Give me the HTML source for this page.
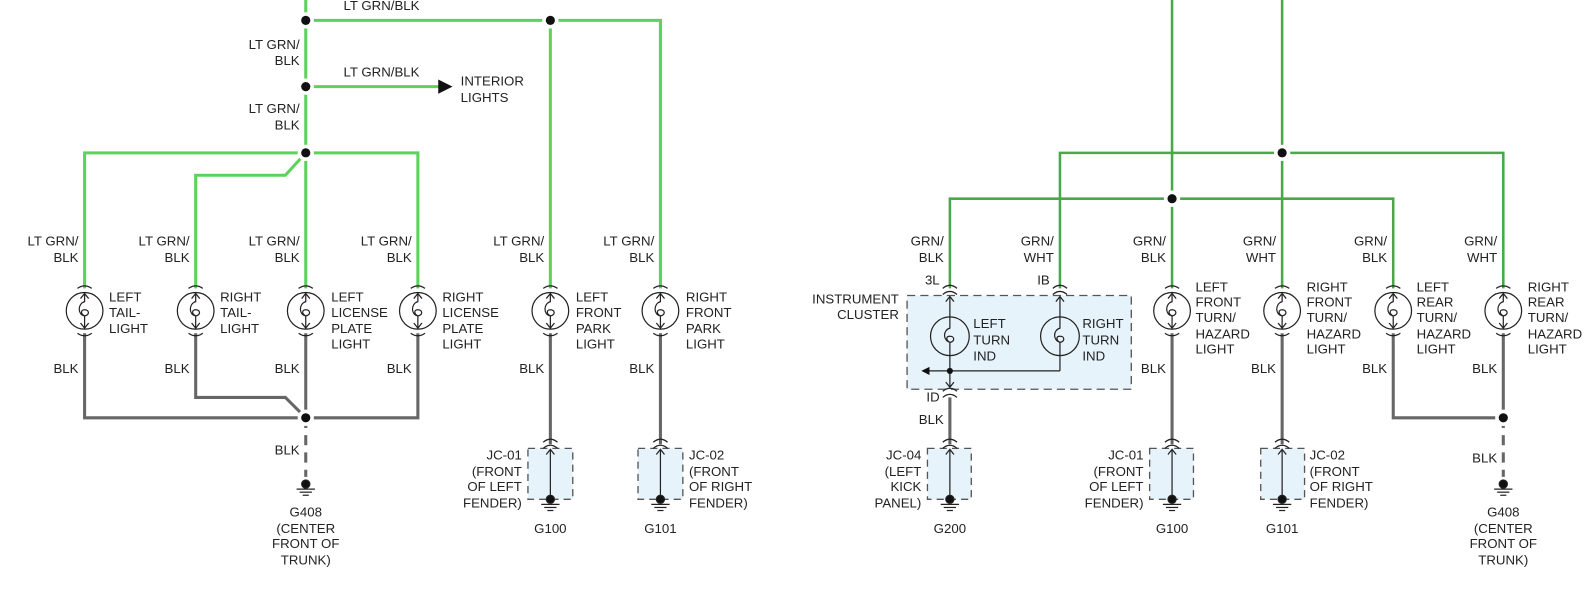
<!DOCTYPE html>
<html><head><meta charset="utf-8"><style>
html,body{margin:0;padding:0;background:#fff;}
svg{display:block;}
text{font-family:"Liberation Sans",sans-serif;font-size:13px;fill:#222;}
</style></head><body>
<svg width="1594" height="590" viewBox="0 0 1564 579" preserveAspectRatio="none" xmlns="http://www.w3.org/2000/svg">
<defs>
<g id="bulb" fill="none" stroke="#222" stroke-width="1.2">
<circle cx="0" cy="0" r="18" fill="#fff"/>
<path d="M-7,-22 Q0,-27 7,-22"/>
<path d="M-7,22 Q0,27 7,22"/>
<path d="M0,-17 V-9 C-7,-7 -7,4 0,5 C5,4 5,-1 0,-1 C-4,-1 -4,3 0,5 V17"/>
<path d="M-4,-12 L0,-17 L4,-12"/>
<path d="M-4,12 L0,17 L4,12"/>
</g>
<g id="gnd" stroke="#222" stroke-width="1.2">
<circle cx="0" cy="0" r="4" fill="#111"/>
<line x1="-9" y1="5" x2="9" y2="5"/><line x1="-6" y1="8" x2="6" y2="8"/><line x1="-3" y1="11" x2="3" y2="11"/>
</g>
<g id="conn" fill="none" stroke="#222" stroke-width="1.2"><path d="M-7,-3 Q0,-9 7,-3"/><path d="M-7,3 Q0,-3 7,3"/></g>
<g id="dot"><circle r="8" fill="#fff"/><circle r="4.5" fill="#111"/></g>
</defs>

<!-- LEFT SECTION green -->
<g fill="none" stroke="#5bd35b" stroke-width="3">
<line x1="300" y1="0" x2="300" y2="283"/>
<polyline points="300,20 648,20 648,283"/>
<line x1="540" y1="20" x2="540" y2="283"/>
<line x1="300" y1="85" x2="432" y2="85"/>
<polyline points="83,283 83,150 410,150 410,283"/>
<polyline points="300,150 280,172 192,172 192,283"/>
</g>
<polygon points="430,78 444,85 430,92" fill="#111"/>
<g fill="none" stroke="#666" stroke-width="3">
<polyline points="83,327 83,410 410,410 410,327"/>
<polyline points="192,327 192,390 280,390 300,410"/>
<line x1="300" y1="327" x2="300" y2="410"/>
<line x1="300" y1="410" x2="300" y2="468" stroke-dasharray="10,7"/>
<line x1="540" y1="327" x2="540" y2="436"/>
<line x1="648" y1="327" x2="648" y2="436"/>
</g>
<use href="#dot" x="300" y="20"/><use href="#dot" x="540" y="20"/>
<use href="#dot" x="300" y="85"/><use href="#dot" x="300" y="150"/>
<use href="#dot" x="300" y="410"/>
<use href="#bulb" x="83" y="305"/><use href="#bulb" x="192" y="305"/><use href="#bulb" x="300" y="305"/><use href="#bulb" x="410" y="305"/>
<use href="#bulb" x="540" y="305"/><use href="#bulb" x="648" y="305"/>
<use href="#gnd" x="300" y="475"/>
<rect x="518" y="440" width="44" height="50" fill="#e6f3fa" stroke="#555" stroke-width="1.3" stroke-dasharray="7,5"/>
<rect x="626" y="440" width="44" height="50" fill="#e6f3fa" stroke="#555" stroke-width="1.3" stroke-dasharray="7,5"/>
<g stroke="#222" stroke-width="1.2" fill="none">
<line x1="540" y1="442" x2="540" y2="488"/><path d="M536,446 L540,441 L544,446"/>
<line x1="648" y1="442" x2="648" y2="488"/><path d="M644,446 L648,441 L652,446"/>
</g>
<use href="#conn" x="540" y="437"/><use href="#conn" x="648" y="437"/>
<use href="#gnd" x="540" y="490"/><use href="#gnd" x="648" y="490"/>

<g text-anchor="end">
<text x="294" y="48">LT GRN/</text><text x="294" y="64">BLK</text>
<text x="294" y="111">LT GRN/</text><text x="294" y="127">BLK</text>
<text x="77" y="241">LT GRN/</text><text x="77" y="257">BLK</text>
<text x="186" y="241">LT GRN/</text><text x="186" y="257">BLK</text>
<text x="294" y="241">LT GRN/</text><text x="294" y="257">BLK</text>
<text x="404" y="241">LT GRN/</text><text x="404" y="257">BLK</text>
<text x="534" y="241">LT GRN/</text><text x="534" y="257">BLK</text>
<text x="642" y="241">LT GRN/</text><text x="642" y="257">BLK</text>
<text x="77" y="366">BLK</text><text x="186" y="366">BLK</text><text x="294" y="366">BLK</text><text x="404" y="366">BLK</text>
<text x="534" y="366">BLK</text><text x="642" y="366">BLK</text>
<text x="294" y="446">BLK</text>
<text x="512" y="451">JC-01</text><text x="512" y="467">(FRONT</text><text x="512" y="482">OF LEFT</text><text x="512" y="498">FENDER)</text>
</g>
<text x="337" y="10">LT GRN/BLK</text>
<text x="337" y="75">LT GRN/BLK</text>
<text x="452" y="84">INTERIOR</text><text x="452" y="100">LIGHTS</text>
<text x="107" y="296">LEFT</text><text x="107" y="311">TAIL-</text><text x="107" y="327">LIGHT</text>
<text x="216" y="296">RIGHT</text><text x="216" y="311">TAIL-</text><text x="216" y="327">LIGHT</text>
<text x="325" y="296">LEFT</text><text x="325" y="311">LICENSE</text><text x="325" y="327">PLATE</text><text x="325" y="342">LIGHT</text>
<text x="434" y="296">RIGHT</text><text x="434" y="311">LICENSE</text><text x="434" y="327">PLATE</text><text x="434" y="342">LIGHT</text>
<text x="565" y="296">LEFT</text><text x="565" y="311">FRONT</text><text x="565" y="327">PARK</text><text x="565" y="342">LIGHT</text>
<text x="673" y="296">RIGHT</text><text x="673" y="311">FRONT</text><text x="673" y="327">PARK</text><text x="673" y="342">LIGHT</text>
<text x="676" y="451">JC-02</text><text x="676" y="467">(FRONT</text><text x="676" y="482">OF RIGHT</text><text x="676" y="498">FENDER)</text>
<g text-anchor="middle">
<text x="540" y="523">G100</text><text x="648" y="523">G101</text>
<text x="300" y="507">G408</text><text x="300" y="523">(CENTER</text><text x="300" y="538">FRONT OF</text><text x="300" y="554">TRUNK)</text>
</g>

<!-- RIGHT SECTION -->
<rect x="890" y="290" width="220" height="92" fill="#e6f3fa" stroke="#555" stroke-width="1.3" stroke-dasharray="8,5"/>
<g fill="none" stroke="#4aa84a" stroke-width="2.5">
<line x1="1150" y1="0" x2="1150" y2="283"/>
<line x1="1258" y1="0" x2="1258" y2="283"/>
<polyline points="1040,283 1040,150 1475,150 1475,283"/>
<polyline points="932,283 932,195 1367,195 1367,283"/>
</g>
<g fill="none" stroke="#666" stroke-width="3">
<line x1="1150" y1="327" x2="1150" y2="436"/>
<line x1="1258" y1="327" x2="1258" y2="436"/>
<polyline points="1367,327 1367,410 1475,410 1475,327"/>
<line x1="1475" y1="410" x2="1475" y2="468" stroke-dasharray="10,7"/>
<line x1="932" y1="390" x2="932" y2="436"/>
</g>
<g fill="none" stroke="#222" stroke-width="1.2">
<line x1="932" y1="291" x2="932" y2="380"/><path d="M928,296 L932,291 L936,296"/><path d="M928,375 L932,380 L936,375"/>
<line x1="1040" y1="291" x2="1040" y2="364"/><path d="M1036,296 L1040,291 L1044,296"/>
<line x1="910" y1="364" x2="1040" y2="364"/>
</g>
<polygon points="904,364 912,360 912,368" fill="#111"/>
<circle cx="932" cy="364" r="3" fill="#111"/>
<g fill="none" stroke="#222" stroke-width="1.2">
<circle cx="932" cy="330" r="19" fill="#e6f3fa"/>
<circle cx="1040" cy="330" r="19" fill="#e6f3fa"/>
<path d="M932,311 V322 C925,324 925,334 932,336 C937,335 937,330 932,330 C928,330 928,334 932,336 V349"/>
<path d="M1040,311 V322 C1033,324 1033,334 1040,336 C1045,335 1045,330 1040,330 C1036,330 1036,334 1040,336 V349"/>
</g>
<use href="#conn" x="932" y="286"/><use href="#conn" x="1040" y="286"/><use href="#conn" x="932" y="387"/>
<use href="#dot" x="1150" y="195"/><use href="#dot" x="1258" y="150"/><use href="#dot" x="1475" y="410"/>
<use href="#bulb" x="1150" y="305"/><use href="#bulb" x="1258" y="305"/><use href="#bulb" x="1367" y="305"/><use href="#bulb" x="1475" y="305"/>
<rect x="910" y="440" width="43" height="50" fill="#e6f3fa" stroke="#555" stroke-width="1.3" stroke-dasharray="7,5"/>
<rect x="1128" y="440" width="43" height="50" fill="#e6f3fa" stroke="#555" stroke-width="1.3" stroke-dasharray="7,5"/>
<rect x="1237" y="440" width="43" height="50" fill="#e6f3fa" stroke="#555" stroke-width="1.3" stroke-dasharray="7,5"/>
<g stroke="#222" stroke-width="1.2" fill="none">
<line x1="932" y1="442" x2="932" y2="488"/><path d="M928,446 L932,441 L936,446"/>
<line x1="1150" y1="442" x2="1150" y2="488"/><path d="M1146,446 L1150,441 L1154,446"/>
<line x1="1258" y1="442" x2="1258" y2="488"/><path d="M1254,446 L1258,441 L1262,446"/>
</g>
<use href="#conn" x="932" y="437"/><use href="#conn" x="1150" y="437"/><use href="#conn" x="1258" y="437"/>
<use href="#gnd" x="932" y="490"/><use href="#gnd" x="1150" y="490"/><use href="#gnd" x="1258" y="490"/><use href="#gnd" x="1475" y="475"/>

<g text-anchor="end">
<text x="926" y="241">GRN/</text><text x="926" y="257">BLK</text>
<text x="1034" y="241">GRN/</text><text x="1034" y="257">WHT</text>
<text x="1144" y="241">GRN/</text><text x="1144" y="257">BLK</text>
<text x="1252" y="241">GRN/</text><text x="1252" y="257">WHT</text>
<text x="1361" y="241">GRN/</text><text x="1361" y="257">BLK</text>
<text x="1469" y="241">GRN/</text><text x="1469" y="257">WHT</text>
<text x="922" y="279">3L</text><text x="1030" y="279">IB</text>
<text x="882" y="298">INSTRUMENT</text><text x="882" y="313">CLUSTER</text>
<text x="922" y="394">ID</text><text x="926" y="416">BLK</text>
<text x="1144" y="366">BLK</text><text x="1252" y="366">BLK</text><text x="1361" y="366">BLK</text><text x="1469" y="366">BLK</text>
<text x="1469" y="454">BLK</text>
<text x="904" y="451">JC-04</text><text x="904" y="467">(LEFT</text><text x="904" y="482">KICK</text><text x="904" y="498">PANEL)</text>
<text x="1122" y="451">JC-01</text><text x="1122" y="467">(FRONT</text><text x="1122" y="482">OF LEFT</text><text x="1122" y="498">FENDER)</text>
</g>
<text x="955" y="322">LEFT</text><text x="955" y="338">TURN</text><text x="955" y="354">IND</text>
<text x="1062" y="322">RIGHT</text><text x="1062" y="338">TURN</text><text x="1062" y="354">IND</text>
<text x="1173" y="286">LEFT</text><text x="1173" y="301">FRONT</text><text x="1173" y="316">TURN/</text><text x="1173" y="332">HAZARD</text><text x="1173" y="347">LIGHT</text>
<text x="1282" y="286">RIGHT</text><text x="1282" y="301">FRONT</text><text x="1282" y="316">TURN/</text><text x="1282" y="332">HAZARD</text><text x="1282" y="347">LIGHT</text>
<text x="1390" y="286">LEFT</text><text x="1390" y="301">REAR</text><text x="1390" y="316">TURN/</text><text x="1390" y="332">HAZARD</text><text x="1390" y="347">LIGHT</text>
<text x="1499" y="286">RIGHT</text><text x="1499" y="301">REAR</text><text x="1499" y="316">TURN/</text><text x="1499" y="332">HAZARD</text><text x="1499" y="347">LIGHT</text>
<text x="1285" y="451">JC-02</text><text x="1285" y="467">(FRONT</text><text x="1285" y="482">OF RIGHT</text><text x="1285" y="498">FENDER)</text>
<g text-anchor="middle">
<text x="932" y="523">G200</text><text x="1150" y="523">G100</text><text x="1258" y="523">G101</text>
<text x="1475" y="507">G408</text><text x="1475" y="523">(CENTER</text><text x="1475" y="538">FRONT OF</text><text x="1475" y="554">TRUNK)</text>
</g>
</svg>
</body></html>
